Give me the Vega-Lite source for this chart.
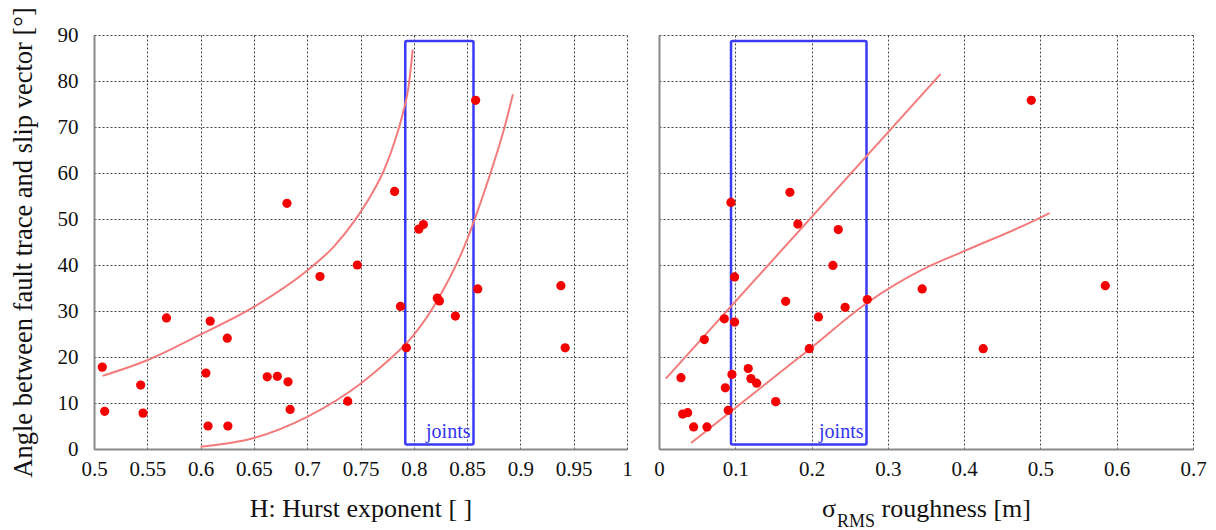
{
  "$schema": "https://vega.github.io/schema/vega-lite/v6.json",
  "background": "white",
  "padding": {"left": 9, "top": 6, "right": 5, "bottom": 2},
  "bounds": "flush",
  "spacing": 32,
  "config": {
    "font": "Liberation Serif",
    "view": {"stroke": null},
    "axis": {
      "labelFont": "Liberation Serif",
      "titleFont": "Liberation Serif",
      "labelFontSize": 21,
      "titleFontSize": 26,
      "labelColor": "#111",
      "titleColor": "#111",
      "titleFontWeight": "normal",
      "grid": true,
      "gridColor": "#444",
      "gridDash": [2, 2],
      "gridWidth": 1,
      "domainColor": "#8a8a8a",
      "domainWidth": 2,
      "ticks": false,
      "tickSize": 0,
      "labelFlush": false,
      "labelOverlap": false
    },
    "axisY": {"titleFontSize": 26.5, "labelPadding": 16, "titlePadding": 20},
    "axisX": {"labelPadding": 9, "titlePadding": 16}
  },
  "datasets": {
    "left_pts": [
      {"x": 0.5078, "y": 17.8}, {"x": 0.51, "y": 8.2}, {"x": 0.5438, "y": 13.9}, {"x": 0.546, "y": 7.8},
      {"x": 0.568, "y": 28.5}, {"x": 0.605, "y": 16.5}, {"x": 0.607, "y": 5.0}, {"x": 0.609, "y": 27.8},
      {"x": 0.625, "y": 24.1}, {"x": 0.6256, "y": 5.0}, {"x": 0.6625, "y": 15.7}, {"x": 0.672, "y": 15.8},
      {"x": 0.682, "y": 14.6}, {"x": 0.684, "y": 8.6}, {"x": 0.681, "y": 53.4}, {"x": 0.712, "y": 37.5},
      {"x": 0.738, "y": 10.4}, {"x": 0.747, "y": 40.0}, {"x": 0.782, "y": 56.0}, {"x": 0.7875, "y": 31.0},
      {"x": 0.793, "y": 22.0}, {"x": 0.8047, "y": 47.8}, {"x": 0.809, "y": 48.8}, {"x": 0.822, "y": 32.8},
      {"x": 0.824, "y": 32.2}, {"x": 0.839, "y": 28.9}, {"x": 0.858, "y": 75.8}, {"x": 0.86, "y": 34.8},
      {"x": 0.938, "y": 35.5}, {"x": 0.942, "y": 22.0}
    ],
    "right_pts": [
      {"x": 0.0288, "y": 15.5}, {"x": 0.031, "y": 7.6}, {"x": 0.0376, "y": 7.9}, {"x": 0.0454, "y": 4.8},
      {"x": 0.0594, "y": 23.8}, {"x": 0.0629, "y": 4.8}, {"x": 0.0856, "y": 28.3}, {"x": 0.0869, "y": 13.3},
      {"x": 0.0908, "y": 8.4}, {"x": 0.0956, "y": 16.2}, {"x": 0.0943, "y": 53.6}, {"x": 0.0991, "y": 37.4},
      {"x": 0.0991, "y": 27.6}, {"x": 0.117, "y": 17.5}, {"x": 0.1205, "y": 15.3}, {"x": 0.128, "y": 14.3},
      {"x": 0.153, "y": 10.3}, {"x": 0.166, "y": 32.1}, {"x": 0.1716, "y": 55.8}, {"x": 0.182, "y": 48.9},
      {"x": 0.197, "y": 21.8}, {"x": 0.209, "y": 28.7}, {"x": 0.228, "y": 39.9}, {"x": 0.235, "y": 47.7},
      {"x": 0.244, "y": 30.8}, {"x": 0.273, "y": 32.5}, {"x": 0.345, "y": 34.8}, {"x": 0.425, "y": 21.8},
      {"x": 0.488, "y": 75.8}, {"x": 0.585, "y": 35.5}
    ],
    "left_curves": [
      {"curve": "upper", "x": 0.508, "y": 15.9}, {"curve": "upper", "x": 0.55, "y": 19.3},
      {"curve": "upper", "x": 0.6, "y": 24.9}, {"curve": "upper", "x": 0.65, "y": 30.9},
      {"curve": "upper", "x": 0.7, "y": 38.8}, {"curve": "upper", "x": 0.725, "y": 44.0},
      {"curve": "upper", "x": 0.745, "y": 49.8}, {"curve": "upper", "x": 0.76, "y": 55.2},
      {"curve": "upper", "x": 0.772, "y": 60.6}, {"curve": "upper", "x": 0.782, "y": 66.8},
      {"curve": "upper", "x": 0.79, "y": 73.2}, {"curve": "upper", "x": 0.795, "y": 78.6},
      {"curve": "upper", "x": 0.799, "y": 86.8},
      {"curve": "lower", "x": 0.6, "y": 0.5}, {"curve": "lower", "x": 0.65, "y": 2.4},
      {"curve": "lower", "x": 0.7, "y": 7.0}, {"curve": "lower", "x": 0.75, "y": 14.2},
      {"curve": "lower", "x": 0.775, "y": 19.0}, {"curve": "lower", "x": 0.8, "y": 24.8},
      {"curve": "lower", "x": 0.822, "y": 32.3}, {"curve": "lower", "x": 0.85, "y": 45.5},
      {"curve": "lower", "x": 0.858, "y": 50.5}, {"curve": "lower", "x": 0.872, "y": 60.0},
      {"curve": "lower", "x": 0.884, "y": 69.0}, {"curve": "lower", "x": 0.893, "y": 77.1}
    ],
    "right_lines": [
      {"curve": "upper", "x": 0.009, "y": 15.3}, {"curve": "upper", "x": 0.369, "y": 81.5},
      {"curve": "lower", "x": 0.042, "y": 1.3}, {"curve": "lower", "x": 0.198, "y": 21.8},
      {"curve": "lower", "x": 0.273, "y": 31.8}, {"curve": "lower", "x": 0.345, "y": 39.0},
      {"curve": "lower", "x": 0.4, "y": 43.0}, {"curve": "lower", "x": 0.5, "y": 50.3},
      {"curve": "lower", "x": 0.512, "y": 51.3}
    ],
    "left_box": [{"x": 0.792, "x2": 0.856, "y": 1.0, "y2": 88.7}],
    "right_box": [{"x": 0.0944, "x2": 0.272, "y": 1.0, "y2": 88.7}],
    "left_label": [{"x": 0.856, "y": 1.0, "label": "joints"}],
    "right_label": [{"x": 0.272, "y": 1.0, "label": "joints"}],
    "subscript": [{"label": "RMS"}]
  },
  "hconcat": [
    {
      "width": 533,
      "height": 414,
      "encoding": {
        "x": {
          "field": "x", "type": "quantitative",
          "scale": {"domain": [0.5, 1], "nice": false, "zero": false},
          "axis": {"title": "H: Hurst exponent [ ]", "values": [0.5, 0.55, 0.6, 0.65, 0.7, 0.75, 0.8, 0.85, 0.9, 0.95, 1], "format": "~g"}
        },
        "y": {
          "field": "y", "type": "quantitative",
          "scale": {"domain": [0, 90], "nice": false},
          "axis": {"title": "Angle between fault trace and slip vector [°]", "values": [0, 10, 20, 30, 40, 50, 60, 70, 80, 90]}
        }
      },
      "layer": [
        {
          "data": {"name": "left_box"},
          "mark": {"type": "rect", "filled": false, "stroke": "#3a3af5", "strokeWidth": 2.5, "cornerRadius": 1.5},
          "encoding": {"x2": {"field": "x2"}, "y2": {"field": "y2"}}
        },
        {
          "data": {"name": "left_label"},
          "mark": {"type": "text", "align": "right", "baseline": "alphabetic", "dx": -3, "dy": -6, "fontSize": 20, "color": "#3333ee", "font": "Liberation Serif"},
          "encoding": {"text": {"field": "label"}}
        },
        {
          "data": {"name": "left_curves"},
          "mark": {"type": "line", "color": "#f37b7b", "strokeWidth": 2, "interpolate": "monotone"},
          "encoding": {"detail": {"field": "curve"}}
        },
        {
          "data": {"name": "left_pts"},
          "mark": {"type": "circle", "size": 85, "color": "#f50000", "opacity": 1}
        }
      ]
    },
    {
      "width": 534,
      "height": 414,
      "layer": [
        {
          "data": {"name": "right_box"},
          "mark": {"type": "rect", "filled": false, "stroke": "#3a3af5", "strokeWidth": 2.5, "cornerRadius": 1.5},
          "encoding": {
            "x": {
              "field": "x", "type": "quantitative",
              "scale": {"domain": [0, 0.7], "nice": false, "zero": false},
              "axis": {"title": "σ\u00a0\u00a0\u00a0\u00a0\u00a0\u00a0\u00a0roughness [m]", "values": [0, 0.1, 0.2, 0.3, 0.4, 0.5, 0.6, 0.7], "format": "~g"}
            },
            "y": {
              "field": "y", "type": "quantitative",
              "scale": {"domain": [0, 90], "nice": false},
              "axis": {"title": null, "labels": false, "values": [0, 10, 20, 30, 40, 50, 60, 70, 80, 90]}
            },
            "x2": {"field": "x2"}, "y2": {"field": "y2"}
          }
        },
        {
          "data": {"name": "right_label"},
          "mark": {"type": "text", "align": "right", "baseline": "alphabetic", "dx": -3, "dy": -6, "fontSize": 20, "color": "#3333ee", "font": "Liberation Serif"},
          "encoding": {
            "x": {"field": "x", "type": "quantitative"},
            "y": {"field": "y", "type": "quantitative"},
            "text": {"field": "label"}
          }
        },
        {
          "data": {"name": "right_lines"},
          "mark": {"type": "line", "color": "#f37b7b", "strokeWidth": 2, "interpolate": "monotone"},
          "encoding": {
            "x": {"field": "x", "type": "quantitative"},
            "y": {"field": "y", "type": "quantitative"},
            "detail": {"field": "curve"}
          }
        },
        {
          "data": {"name": "right_pts"},
          "mark": {"type": "circle", "size": 85, "color": "#f50000", "opacity": 1},
          "encoding": {
            "x": {"field": "x", "type": "quantitative"},
            "y": {"field": "y", "type": "quantitative"}
          }
        },
        {
          "data": {"name": "subscript"},
          "mark": {"type": "text", "align": "left", "baseline": "alphabetic", "fontSize": 18, "fill": "#111111", "font": "Liberation Serif", "clip": false},
          "encoding": {
            "x": {"datum": 0.2333, "type": "quantitative"},
            "y": {"datum": -17, "type": "quantitative"},
            "text": {"field": "label", "type": "nominal"}
          }
        }
      ]
    }
  ]
}
